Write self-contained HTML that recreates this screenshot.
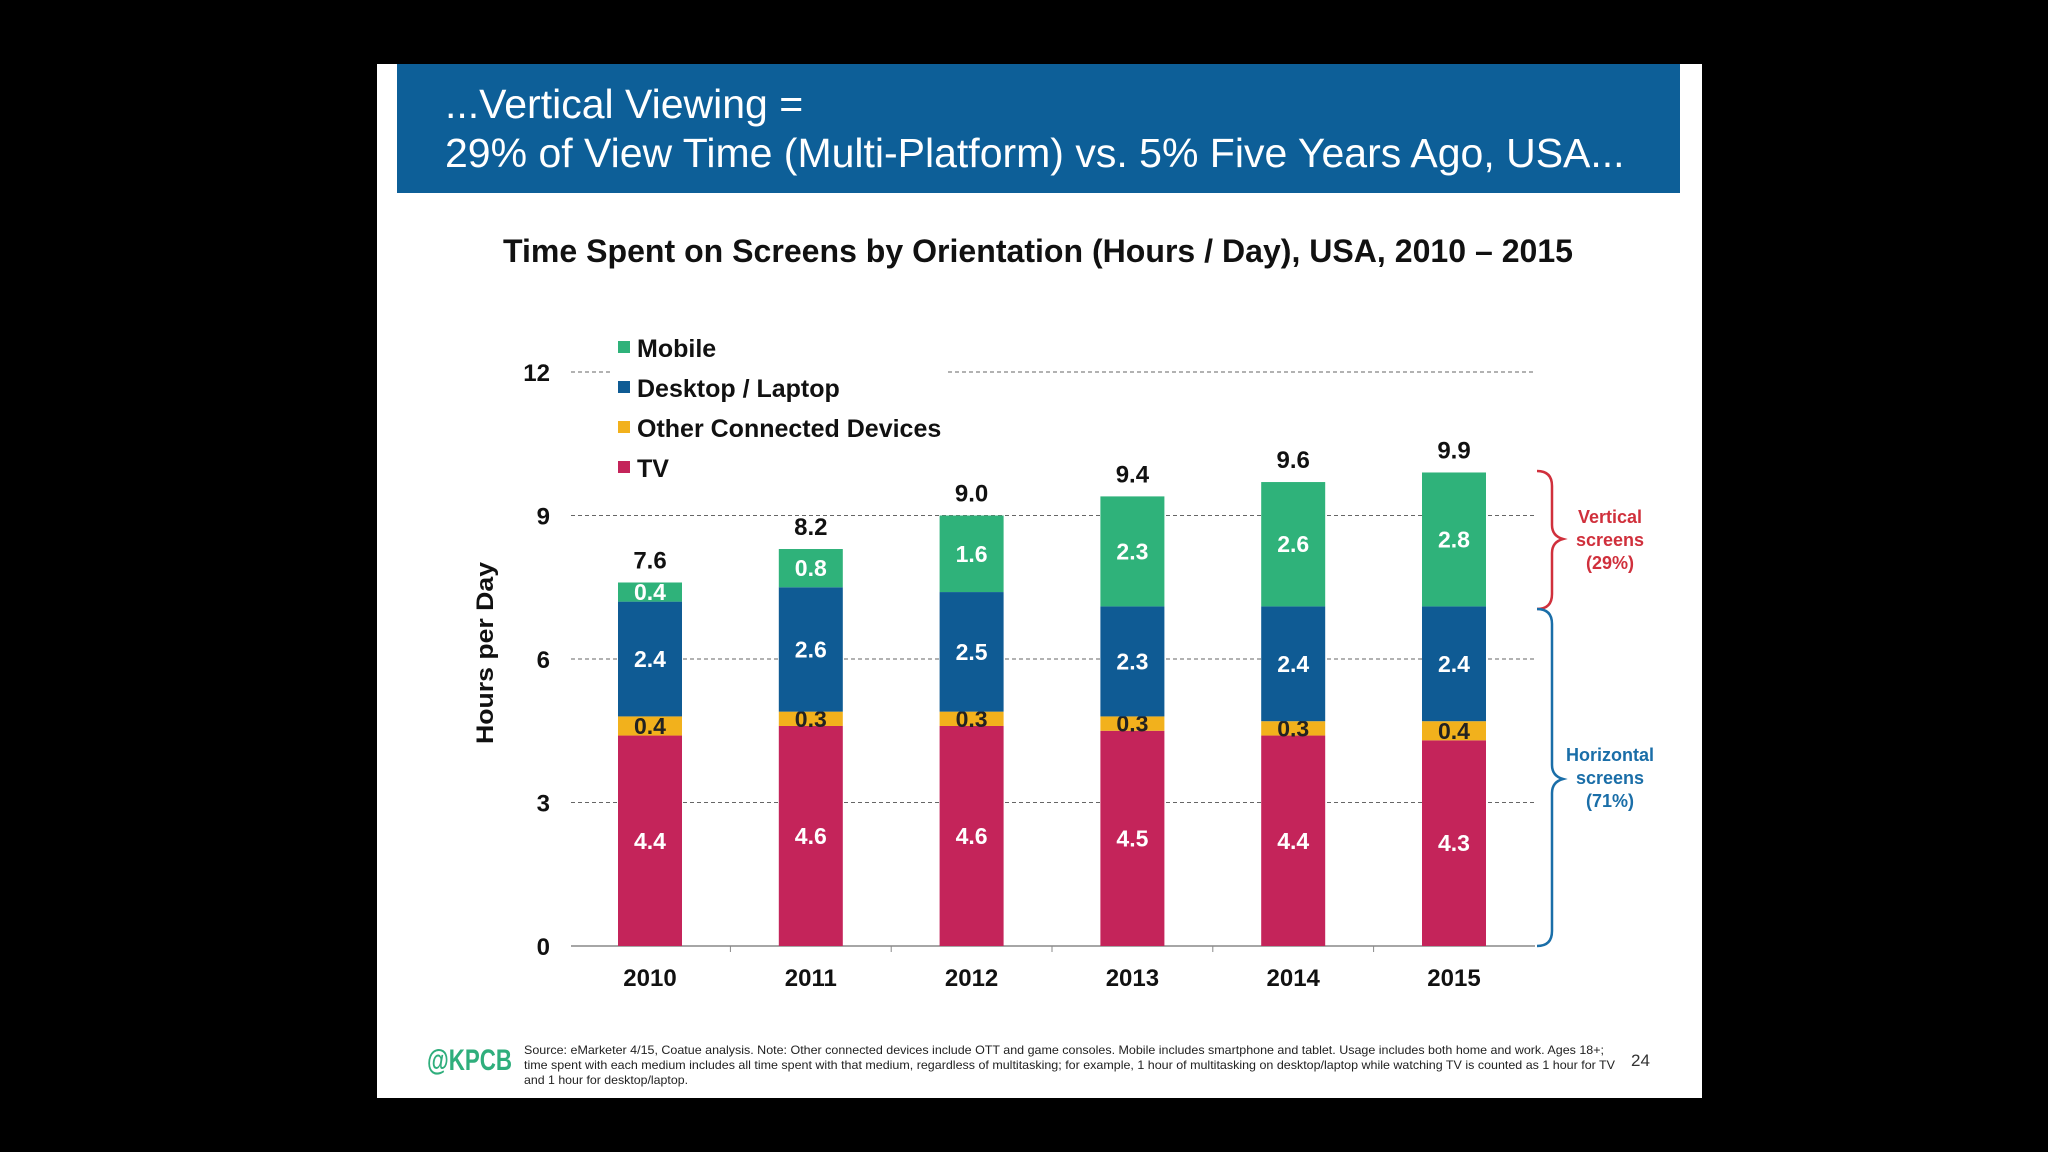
<!DOCTYPE html>
<html><head><meta charset="utf-8"><style>
body{margin:0;width:2048px;height:1152px;background:#000;overflow:hidden;font-family:"Liberation Sans",Arial,sans-serif}
#slide{position:absolute;left:377px;top:64px;width:1325px;height:1034px;background:#fff}
#hdr{position:absolute;left:397px;top:64px;width:1283px;height:129px;background:#0d5f98;color:#fff;font-size:41px;line-height:49px}
#hdr div{position:absolute;left:48px;white-space:nowrap}
svg{position:absolute;left:0;top:0}
</style></head><body>
<div id="slide"></div>
<div id="hdr">
<div style="top:16px">...Vertical Viewing =</div>
<div style="top:65px">29% of View Time (Multi-Platform) vs. 5% Five Years Ago, USA...</div>
</div>
<svg id="chart" width="2048" height="1152">
<text x="1038" y="262" text-anchor="middle" font-size="32" font-weight="bold" fill="#111" textLength="1070" lengthAdjust="spacingAndGlyphs">Time Spent on Screens by Orientation (Hours / Day), USA, 2010 – 2015</text>
<text transform="translate(493,653) rotate(-90)" text-anchor="middle" font-size="24" font-weight="bold" fill="#111" textLength="182" lengthAdjust="spacingAndGlyphs">Hours per Day</text>
<g id="g"></g>
<path d="M1537,471 Q1552,471 1552,486 L1552,525 Q1552,536 1563,539 Q1552,542 1552,553 L1552,594 Q1552,609 1537,609" fill="none" stroke="#d0303c" stroke-width="2.5"/>
<path d="M1537,609 Q1552,609 1552,624 L1552,765 Q1552,776 1563,779 Q1552,782 1552,793 L1552,931 Q1552,946 1537,946" fill="none" stroke="#1a6ea8" stroke-width="2.5"/>
<g font-size="18" font-weight="bold" text-anchor="middle" fill="#d0303c"><text x="1610" y="523">Vertical</text><text x="1610" y="546">screens</text><text x="1610" y="569">(29%)</text></g>
<g font-size="18" font-weight="bold" text-anchor="middle" fill="#1a6ea8"><text x="1610" y="761">Horizontal</text><text x="1610" y="784">screens</text><text x="1610" y="807">(71%)</text></g>
<text x="427" y="1070" font-size="30" font-weight="bold" fill="#2fae7c" textLength="85" lengthAdjust="spacingAndGlyphs">@KPCB</text>
<g font-size="12" fill="#222">
<text x="524" y="1054" textLength="1080" lengthAdjust="spacingAndGlyphs">Source: eMarketer 4/15, Coatue analysis. Note: Other connected devices include OTT and game consoles. Mobile includes smartphone and tablet. Usage includes both home and work. Ages 18+;</text>
<text x="524" y="1069" textLength="1091" lengthAdjust="spacingAndGlyphs">time spent with each medium includes all time spent with that medium, regardless of multitasking; for example, 1 hour of multitasking on desktop/laptop while watching TV is counted as 1 hour for TV</text>
<text x="524" y="1084" textLength="164" lengthAdjust="spacingAndGlyphs">and 1 hour for desktop/laptop.</text></g>
<text x="1631" y="1066" font-size="17" fill="#333">24</text>
</svg>
<script>
const years=["2010","2011","2012","2013","2014","2015"];
const tv=[4.4,4.6,4.6,4.5,4.4,4.3];
const other=[0.4,0.3,0.3,0.3,0.3,0.4];
const desktop=[2.4,2.6,2.5,2.3,2.4,2.4];
const mobile=[0.4,0.8,1.6,2.3,2.6,2.8];
const totals=["7.6","8.2","9.0","9.4","9.6","9.9"];
const yTicks=[0,3,6,9,12];
const NS="http://www.w3.org/2000/svg";
const g=document.getElementById('g');
const y=v=>946-v*47.83;
const x=i=>650+i*160.8;
function mk(t,a){const e=document.createElementNS(NS,t);for(const k in a)e.setAttribute(k,a[k]);g.appendChild(e);return e;}
yTicks.forEach(t=>{
 if(t>0){
  if(t===12){const l=mk('line',{x1:571,x2:611,y1:y(t),y2:y(t),stroke:'#666','stroke-dasharray':'4,3'});
   const l2=mk('line',{x1:948,x2:1535,y1:y(t),y2:y(t),stroke:'#666','stroke-dasharray':'4,3'});}
  else{const l=mk('line',{x1:571,x2:1535,y1:y(t),y2:y(t),stroke:'#666','stroke-dasharray':'4,3'});}
 }
 const tx=mk('text',{x:550,y:y(t)+9,'text-anchor':'end','font-size':24,'font-weight':'bold',fill:'#111'});tx.textContent=t;
 
});
const ax=mk('line',{x1:571,x2:1535,y1:946,y2:946,stroke:'#888','stroke-width':1.5});

const series=[["tv",tv,"#c4245a"],["other",other,"#f2b11c"],["desktop",desktop,"#0f5b94"],["mobile",mobile,"#2fb27a"]];
years.forEach((yr,i)=>{
 let base=0;
 series.forEach(([n,arr,c])=>{
  const v=arr[i];
  const r=mk('rect',{x:x(i)-32,y:y(base+v),width:64,height:v*47.83,fill:c});
  
  const t=mk('text',{x:x(i),y:y(base+v/2)+8,'text-anchor':'middle','font-size':23,'font-weight':'bold',fill:n==='other'?'#222':'#fff'});
  t.textContent=v.toFixed(1);
  base+=v;
 });
 const tt=mk('text',{x:x(i),y:y(base)-14,'text-anchor':'middle','font-size':24,'font-weight':'bold',fill:'#111'});
 tt.textContent=totals[i];
 const xl=mk('text',{x:x(i),y:986,'text-anchor':'middle','font-size':24,'font-weight':'bold',fill:'#111'});
 xl.textContent=yr;
 if(i>0){const tk=mk('line',{x1:x(i)-80.4,x2:x(i)-80.4,y1:946,y2:952,stroke:'#888'});}
});
const leg=[["Mobile","#2fb27a"],["Desktop / Laptop","#0f5b94"],["Other Connected Devices","#f2b11c"],["TV","#c4245a"]];
leg.forEach(([n,c],k)=>{
 const yy=348+k*40;
 const s=mk('rect',{x:618,y:yy-7,width:12,height:12,fill:c});
 const t=mk('text',{x:637,y:yy+9,'font-size':25,'font-weight':'bold',fill:'#111'});t.textContent=n;
 
});
</script>
</body></html>
